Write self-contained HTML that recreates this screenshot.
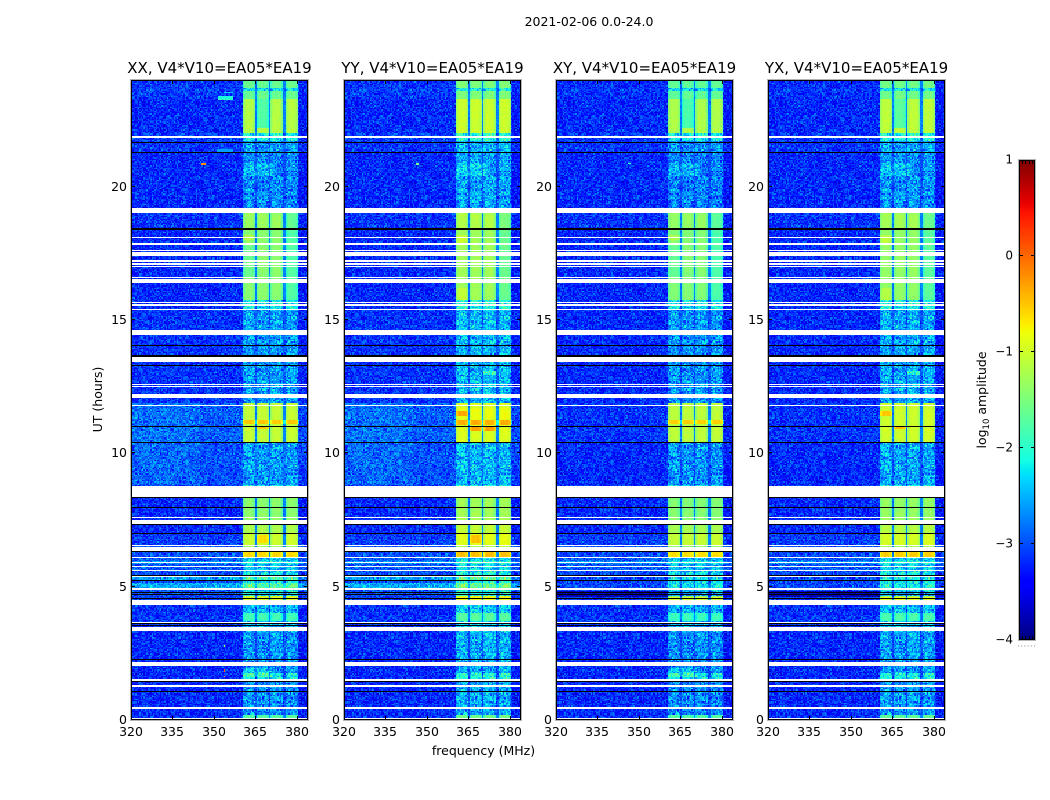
<!DOCTYPE html>
<html>
<head>
<meta charset="utf-8">
<title>2021-02-06 amplitude waterfall</title>
<style>
html,body{margin:0;padding:0;background:#fff;width:1050px;height:800px;overflow:hidden}
#figure{position:relative;width:1050px;height:800px}
canvas{position:absolute;image-rendering:pixelated}
svg{position:absolute;left:0;top:0}
text{font-family:"DejaVu Sans","Liberation Sans",sans-serif;fill:#000}
</style>
</head>
<body>
<div id="figure">
<svg id="overlay" width="1050" height="800" viewBox="0 0 1050 800">
  <text x="589" y="26" text-anchor="middle" font-size="12.5">2021-02-06 0.0-24.0</text>
  <text x="483.5" y="755" text-anchor="middle" font-size="12.5">frequency (MHz)</text>
  <text transform="translate(102,399.5) rotate(-90)" text-anchor="middle" font-size="12.5">UT (hours)</text>
  <text transform="translate(986,400) rotate(-90)" text-anchor="middle" font-size="12.5">log<tspan font-size="8.5" dy="3">10</tspan><tspan dy="-3"> amplitude</tspan></text>
</svg>
</div>
<script>
// ---------- chart data (UT in hours, frequency in MHz, values in log10 amplitude) ----------
const products = ['XX','YY','XY','YX'];
const panelTitles = ['XX, V4*V10=EA05*EA19','YY, V4*V10=EA05*EA19','XY, V4*V10=EA05*EA19','YX, V4*V10=EA05*EA19'];
const freqTicks = [320,335,350,365,380];
const utTicks = [0,5,10,15,20];
const cbarTicks = [-4,-3,-2,-1,0,1];
const cbarTickLabels = ['\u22124','\u22123','\u22122','\u22121','0','1'];

const channelWidth = 0.5;
const channelCount = 128;
const rowHours = 0.05;
const rowCount = 480;

const subbandStart = [360.7,365.5,370.5,376];
const subbandEnd = [365.1,370.1,375.1,380.3];
const subbandShape = [-0.28,-0.08,0,0,0,0,0,-0.08,-0.28];

const segEdges = [0,0.2,1.5,1.75,3.3,3.7,4.0,4.35,4.5,4.65,5.55,6.1,6.3,6.55,7.0,7.35,7.6,8.35,8.8,10.4,11.9,15.4,15.75,18.4,19.0,19.2,21.3,21.7,22.0,23.3,23.6,23.7,24];
const bandLevels = [-1.7,-2.65,-2.15,-2.65,-2.45,-1.85,-2.45,-2.3,-0.9,-2.2,-2.4,-0.6,-1.3,-1.0,-1.2,-1.35,-1.4,-2.2,-2.6,-1.05,-2.6,-2.2,-1.4,-1.3,-2.3,-2.7,-2.6,-2.15,-1.15,-1.6,-2.3,-1.6];
const bgLevelsParallel = [-3.2,-3.2,-3.2,-3.2,-3.15,-3.15,-3.15,-3.1,-3.1,-3.0,-2.95,-3.0,-3.0,-3.1,-3.2,-3.2,-3.2,-3.1,-3.0,-2.95,-3.15,-3.2,-3.2,-3.15,-3.1,-3.2,-3.15,-3.1,-3.2,-3.1,-3.1,-3.15];
const bgLevelsCross = [-3.2,-3.2,-3.2,-3.2,-3.15,-3.15,-3.15,-3.1,-3.1,-3.05,-2.95,-3.05,-3.0,-3.1,-3.2,-3.2,-3.2,-3.15,-3.2,-3.15,-3.2,-3.2,-3.2,-3.15,-3.15,-3.2,-3.15,-3.15,-3.2,-3.15,-3.15,-3.2];
const bandBoost = [0,0.14,-0.04,0.06];

// patches: UT start, UT end, freq start, freq end, added value, XX, YY, XY, YX
const patches = [
 [22.2,23.3,365.5,370.2,-0.6,1,0,1,1],
 [5.85,5.95,320,384,0.3,1,1,1,1],
 [5.25,5.4,320,384,0.4,1,1,0,0],
 [4.95,5.15,320,384,0.45,1,1,0,0],
 [4.6,4.87,320,361,-0.7,0,0,1,1],
 [4.6,4.87,361,384,-0.35,0,0,1,1],
 [11.1,11.25,360,381,0.55,1,0,1,0],
 [10.9,11.0,365.5,370.2,0.55,1,0,0,1],
 [11.05,11.25,360,381,0.55,0,1,0,0],
 [11.4,11.6,360.6,365.1,0.5,0,1,0,1],
 [10.85,11.0,365.5,375.1,0.6,0,1,0,0],
 [11.3,11.7,360,381,0.1,0,1,0,0],
 [6.65,6.95,365.5,370.2,0.4,1,1,0,0],
 [17.9,18.2,360.6,365.1,0.25,1,1,1,1],
 [15.75,16.2,360.6,365.1,0.2,0,1,0,1],
 [12.95,13.1,370.5,375,0.6,0,1,0,1],
 [1.6,1.95,360.6,371,0.35,1,0,1,0],
 [20.4,20.9,361,372,0.25,1,1,1,1],
 [15.75,19.0,376,380.3,-0.35,1,1,1,1],
 [16.6,18.0,360.6,365.1,-0.2,1,0,1,0]
];

// narrow spurs: UT, freq start, freq end, absolute value, XX, YY, XY, YX
const spurs = [
 [20.85,345.5,346.8,-0.2,1,0,0,0],
 [1.65,353.5,354.2,-0.3,1,0,0,0],
 [1.85,353.5,354.2,0.1,1,0,0,0],
 [23.3,351.5,357,-1.9,1,0,0,0],
 [23.35,351.5,357,-2.1,1,0,0,0],
 [23.55,353.5,357,-2.4,1,0,0,0],
 [21.35,351,357,-2.6,1,0,0,0],
 [2.8,353.5,354,-1.2,1,0,0,0],
 [20.85,346,347,-1.5,0,1,0,0],
 [20.9,346,347,-1.9,0,0,1,0]
];

const flagWhiteUT = [[21.825,21.9],[19.01,19.2],[18.075,18.11],[17.81,17.89],[17.59,17.625],[17.4,17.55],[17.19,17.25],[17.08,17.14],[16.97,17.03],[16.575,16.63],[16.39,16.54],[15.66,15.69],[15.54,15.6],[15.36,15.41],[14.42,14.625],[13.41,13.61],[12.56,12.6],[12.49,12.53],[12.08,12.23],[11.76,11.81],[8.36,8.78],[7.56,7.6],[7.35,7.5],[6.51,6.56],[6.34,6.49],[6.06,6.11],[5.89,5.92],[5.74,5.78],[5.59,5.62],[5.36,5.4],[4.875,4.95],[4.33,4.5],[3.64,3.675],[3.32,3.49],[2.04,2.175],[1.48,1.54],[1.22,1.31],[0.43,0.49],[0.04,0.09]];
const flagBlackUT = [[21.66,21.69],[21.27,21.3],[18.375,18.45],[14.03,14.06],[13.63,13.67],[13.26,13.33],[11.0,11.04],[10.4,10.44],[8.33,8.36],[7.95,8.0],[7.31,7.35],[7.0,7.03],[6.3,6.34],[5.4,5.43],[5.21,5.25],[4.78,4.8],[4.72,4.74],[4.57,4.59],[3.6,3.63],[3.53,3.56],[2.25,2.27],[1.43,1.46],[1.07,1.1]];

const grainA = [0.12,-0.31,0.05,0.27,-0.18,-0.42,0.33,0.02,-0.09,0.21,-0.26,0.41,-0.05,-0.37,0.16,0.08,-0.22,0.36,-0.14,0.01,0.24,-0.46,0.11,0.30,-0.07,-0.29,0.19,-0.12,0.44,-0.34,0.06,-0.20,0.26,0.14,-0.40,0.03,0.38,-0.16,-0.02,0.22,-0.33,0.09,0.47,-0.24,-0.11,0.17,-0.38,0.29,0.04,-0.06,0.35,-0.27,0.13,-0.44,0.20,0.07,-0.15,0.32,-0.23,0.10,-0.01];
const grainB = [-0.08,0.19,-0.25,0.04,0.28,-0.12,-0.33,0.15,0.37,-0.19,0.02,-0.28,0.23,0.09,-0.06,0.31,-0.36,0.12,-0.15,0.26,0.00,-0.21,0.34,-0.03,-0.30,0.17,0.06,-0.10,0.40,-0.24,0.13,-0.17,0.21,-0.39,0.08,0.29,-0.05,-0.14,0.25,-0.27,0.11,0.33,-0.22,0.03,-0.09,0.18,-0.31];

// ---------- layout and axis functions ----------
const panelLeft = [131,344,556,768];
const panelWidth = 177;
const plotTop = 80;
const plotBottom = 720;
const freqMin = 320;
const freqMax = 384.1;
const utMax = 24;
const cbarX = 1019, cbarW = 16, cbarTop = 160, cbarBottom = 640, cbarMin = -4, cbarMax = 1;

function xScale(p, f){ return panelLeft[p] + (f - freqMin) / (freqMax - freqMin) * panelWidth; }
function yScale(ut){ return plotBottom - ut / utMax * (plotBottom - plotTop); }
function cbarScale(v){ return cbarBottom - (v - cbarMin) / (cbarMax - cbarMin) * (cbarBottom - cbarTop); }

function jet(t){
  t = Math.max(0, Math.min(1, t));
  const r = Math.max(0, Math.min(1, t < 0.35 ? 0 : t < 0.66 ? (t - 0.35) / 0.31 : t < 0.89 ? 1 : 1 - (t - 0.89) / 0.11 * 0.5));
  const g = Math.max(0, Math.min(1, t < 0.125 ? 0 : t < 0.375 ? (t - 0.125) / 0.25 : t < 0.64 ? 1 : t < 0.91 ? 1 - (t - 0.64) / 0.27 : 0));
  const b = Math.max(0, Math.min(1, t < 0.11 ? 0.5 + t / 0.11 * 0.5 : t < 0.34 ? 1 : t < 0.65 ? 1 - (t - 0.34) / 0.31 : 0));
  return [Math.round(r * 255), Math.round(g * 255), Math.round(b * 255)];
}
function colorOf(v){ return jet((v - cbarMin) / (cbarMax - cbarMin)); }

function segmentIndex(ut){
  for (let i = 0; i < segEdges.length - 1; i++) if (ut < segEdges[i + 1]) return i;
  return segEdges.length - 2;
}

function cellValue(p, ci, ri){
  const f = freqMin + (ci + 0.5) * channelWidth;
  const ut = (ri + 0.5) * rowHours;
  const s = segmentIndex(ut);
  const bg = (p < 2 ? bgLevelsParallel : bgLevelsCross)[s];
  const band = bandLevels[s] + bandBoost[p];
  let base = bg, amp = 0.65;
  if (f > 381) base -= 0.1;
  if (p < 2 && ut > 8.8 && ut < 11.9 && f < 345) base += 0.12;
  const strong = band > -2;
  if (f >= subbandStart[0] && f <= subbandEnd[3]) {
    base = strong ? Math.max(bg + 0.2, -2.75) : bg + 0.2;
    amp = strong ? 0.25 : 0.5;
    for (let k = 0; k < subbandStart.length; k++) {
      if (f >= subbandStart[k] && f <= subbandEnd[k]) {
        const pos = (f - subbandStart[k]) / (subbandEnd[k] - subbandStart[k]);
        const shape = subbandShape[Math.min(subbandShape.length - 1, Math.floor(pos * subbandShape.length))];
        base = band + (strong ? shape : shape * 0.4);
        amp = strong ? 0.14 : 0.8;
      }
    }
  }
  for (const q of patches) {
    if (q[5 + p] && ut >= q[0] && ut < q[1] && f >= q[2] && f < q[3]) base += q[4];
  }
  const a = grainA[(ci * 13 + ri * 29 + (ci * ri) % 7) % grainA.length];
  const b = grainB[(ci * ci + ri * ri * 3 + ri) % grainB.length];
  let v = base + (a + b) * amp;
  for (const q of spurs) {
    if (q[4 + p] && Math.abs(ut - q[0]) < rowHours / 2 && f >= q[1] && f < q[2]) v = q[3];
  }
  return v;
}

const figure = document.getElementById('figure');
const overlay = document.getElementById('overlay');
const NS = 'http://www.w3.org/2000/svg';

function drawHeatmap(ctx, p){
  for (let ri = 0; ri < rowCount; ri++) {
    const y0 = Math.round(yScale((ri + 1) * rowHours)) - plotTop;
    const y1 = Math.round(yScale(ri * rowHours)) - plotTop;
    for (let ci = 0; ci < channelCount; ci++) {
      const x0 = Math.round(xScale(p, freqMin + ci * channelWidth)) - panelLeft[p];
      const x1 = Math.round(xScale(p, freqMin + (ci + 1) * channelWidth)) - panelLeft[p];
      const c = colorOf(cellValue(p, ci, ri));
      ctx.fillStyle = 'rgb(' + c[0] + ',' + c[1] + ',' + c[2] + ')';
      ctx.fillRect(x0, y0, x1 - x0, y1 - y0);
    }
  }
}

function addFrame(x, y, w, h, label){
  const outer = document.createElementNS(NS, 'rect');
  
  
  outer.setAttribute('x', x - 0.5);
  outer.setAttribute('y', y - 0.5);
  outer.setAttribute('width', w + 1);
  outer.setAttribute('height', h + 1);
  outer.setAttribute('fill', 'none');
  outer.setAttribute('stroke', '#b4b4b4');
  overlay.appendChild(outer);
  const inner = document.createElementNS(NS, 'rect');
  
  
  inner.setAttribute('x', x + 0.5);
  inner.setAttribute('y', y + 0.5);
  inner.setAttribute('width', w - 1);
  inner.setAttribute('height', h - 1);
  inner.setAttribute('fill', 'none');
  inner.setAttribute('stroke', '#000');
  overlay.appendChild(inner);
}

function addTick(x1, y1, x2, y2, label){
  const t = document.createElementNS(NS, 'line');
  
  
  t.setAttribute('x1', x1);
  t.setAttribute('y1', y1);
  t.setAttribute('x2', x2);
  t.setAttribute('y2', y2);
  t.setAttribute('stroke', '#000');
  t.setAttribute('stroke-width', '1');
  t.setAttribute('shape-rendering', 'crispEdges');
  overlay.appendChild(t);
}

function addLabel(x, y, str, size, anchor, label){
  const t = document.createElementNS(NS, 'text');
  
  
  t.setAttribute('x', x);
  t.setAttribute('y', y);
  t.setAttribute('font-size', size);
  t.setAttribute('text-anchor', anchor);
  t.textContent = str;
  overlay.appendChild(t);
}

function addFlag(p, pair, color, label){
  const r = document.createElementNS(NS, 'rect');
  
  
  const y0 = Math.round(yScale(pair[1]));
  const y1 = Math.max(y0 + 1, Math.round(yScale(pair[0])));
  r.setAttribute('x', panelLeft[p]);
  r.setAttribute('y', y0);
  r.setAttribute('width', panelWidth);
  r.setAttribute('height', y1 - y0);
  r.setAttribute('fill', color);
  r.setAttribute('shape-rendering', 'crispEdges');
  overlay.appendChild(r);
}

products.forEach(function(prod, p){
  const key = prod.toLowerCase();
  const cv = document.createElement('canvas');
  
  
  cv.width = panelWidth;
  cv.height = plotBottom - plotTop;
  cv.style.left = panelLeft[p] + 'px';
  cv.style.top = plotTop + 'px';
  figure.insertBefore(cv, overlay);
  drawHeatmap(cv.getContext('2d'), p);

  flagWhiteUT.forEach(function(pair){ addFlag(p, pair, '#fff', 'flagged-row-' + key); });
  flagBlackUT.forEach(function(pair){ addFlag(p, pair, '#000', 'dropout-row-' + key); });

  addFrame(panelLeft[p], plotTop, panelWidth, plotBottom - plotTop, 'panel-' + key);

  freqTicks.forEach(function(f){
    const x = Math.round(xScale(p, f)) + 0.5;
    addTick(x, plotBottom, x, plotBottom - 4, 'x-tick-bottom-' + key);
    addTick(x, plotTop, x, plotTop + 4, 'x-tick-top-' + key);
    addLabel(x - 0.5, 736, String(f), 12.5, 'middle', 'x-tick-label-' + key);
  });
  utTicks.forEach(function(u){
    const y = Math.round(yScale(u)) - 0.5;
    addTick(panelLeft[p], y, panelLeft[p] + 4, y, 'y-tick-left-' + key);
    addTick(panelLeft[p] + panelWidth, y, panelLeft[p] + panelWidth - 4, y, 'y-tick-right-' + key);
    addLabel(panelLeft[p] - 4, y + 4.5, String(u), 12.5, 'end', 'y-tick-label-' + key);
  });
  addLabel(panelLeft[p] + panelWidth / 2, 73, panelTitles[p], 15, 'middle', 'panel-title-' + key);
});

// ---------- colorbar ----------
const cb = document.createElement('canvas');


cb.width = cbarW;
cb.height = cbarBottom - cbarTop;
cb.style.left = cbarX + 'px';
cb.style.top = cbarTop + 'px';
figure.insertBefore(cb, overlay);
const cbCtx = cb.getContext('2d');
for (let py = 0; py < cb.height; py++) {
  const v = cbarMax - (py + 0.5) / cb.height * (cbarMax - cbarMin);
  const c = colorOf(v);
  cbCtx.fillStyle = 'rgb(' + c[0] + ',' + c[1] + ',' + c[2] + ')';
  cbCtx.fillRect(0, py, cbarW, 1);
}
addFrame(cbarX, cbarTop, cbarW, cbarBottom - cbarTop, 'colorbar');
cbarTicks.forEach(function(v, i){
  const y = Math.round(cbarScale(v)) - (v === 1 ? -0.5 : 0.5);
  if (v !== 1 && v !== -4) {
    addTick(cbarX, y, cbarX + 4, y, 'colorbar-tick-left');
    addTick(cbarX + cbarW, y, cbarX + cbarW - 4, y, 'colorbar-tick-right');
  }
  addLabel(cbarX - 6, Math.round(cbarScale(v)) + 3.5, cbarTickLabels[i], 12, 'end', 'colorbar-tick-label');
});
[0,1,2,3,4,5].forEach(function(n){
  const x = cbarX + Math.round(n * cbarW / 5) + (n === 5 ? -0.5 : 0.5);
  addTick(x, cbarTop, x, cbarTop + 4, 'colorbar-end-tick-top');
  addTick(x, cbarBottom, x, cbarBottom - 4, 'colorbar-end-tick-bottom');
  const dot = document.createElementNS(NS, 'rect');
  
  
  dot.setAttribute('x', cbarX - 1 + n * 3.2);
  dot.setAttribute('y', 645.5);
  dot.setAttribute('width', 1);
  dot.setAttribute('height', 1);
  dot.setAttribute('fill', '#888');
  overlay.appendChild(dot);
});
</script>
</body>
</html>
